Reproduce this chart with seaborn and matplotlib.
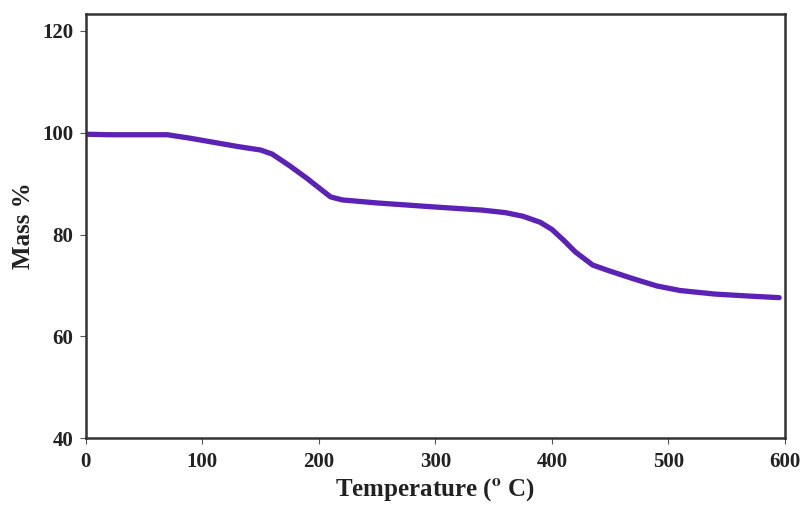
import matplotlib
matplotlib.use("Agg")
import matplotlib.pyplot as plt
import seaborn as sns
import pandas as pd

temperature = [0, 20, 50, 70, 90, 110, 130, 150, 160, 175, 190, 200, 210, 220, 250, 300,
               340, 360, 375, 390, 400, 410, 420, 435, 450, 470, 490, 510, 540, 570, 595]
mass = [99.7, 99.6, 99.6, 99.6, 98.9, 98.1, 97.3, 96.6, 95.8, 93.5, 91.0, 89.2, 87.4, 86.8,
        86.2, 85.4, 84.8, 84.3, 83.6, 82.4, 81.0, 78.9, 76.6, 74.0, 72.8, 71.3, 69.9, 69.0,
        68.3, 67.9, 67.6]
x_ticks = [0, 100, 200, 300, 400, 500, 600]
y_ticks = [40, 60, 80, 100, 120]

sns.set_theme(style="white")
plt.rcParams['font.family'] = ['Liberation Serif', 'DejaVu Serif']
plt.rcParams['font.weight'] = 'bold'
plt.rcParams['mathtext.fontset'] = 'stix'

df = pd.DataFrame({"Temperature": temperature, "Mass": mass})

fig = plt.figure(figsize=(8.01, 5.21), dpi=100)
ax = fig.add_axes([0.107, 0.159, 0.873, 0.814])
sns.lineplot(data=df, x="Temperature", y="Mass", ax=ax, color="#5B22B5", linewidth=3.8)

ax.set_xlim(0, 600)
ax.set_ylim(40, 123.3)
ax.set_xticks(x_ticks)
ax.set_yticks(y_ticks)
ax.set_xticklabels([str(t) for t in x_ticks], fontsize=15, fontweight='bold')
ax.set_yticklabels([str(t) for t in y_ticks], fontsize=15, fontweight='bold')
ax.tick_params(axis='both', which='major', direction='out', length=4, width=0.8,
               colors='#555555', labelcolor='#222222', bottom=True, left=True, pad=5)
ax.tick_params(axis='x', pad=6)
for s in ax.spines.values():
    s.set_color('#333333')
    s.set_linewidth(1.8)

ax.set_xlabel(r"Temperature ($^{\mathbf{o}}$ C)", fontsize=18, fontweight='bold', labelpad=3, color='#222222')
ax.set_ylabel("Mass %", fontsize=18, fontweight='bold', labelpad=5, color='#222222')

fig.savefig("out.png", dpi=100)
